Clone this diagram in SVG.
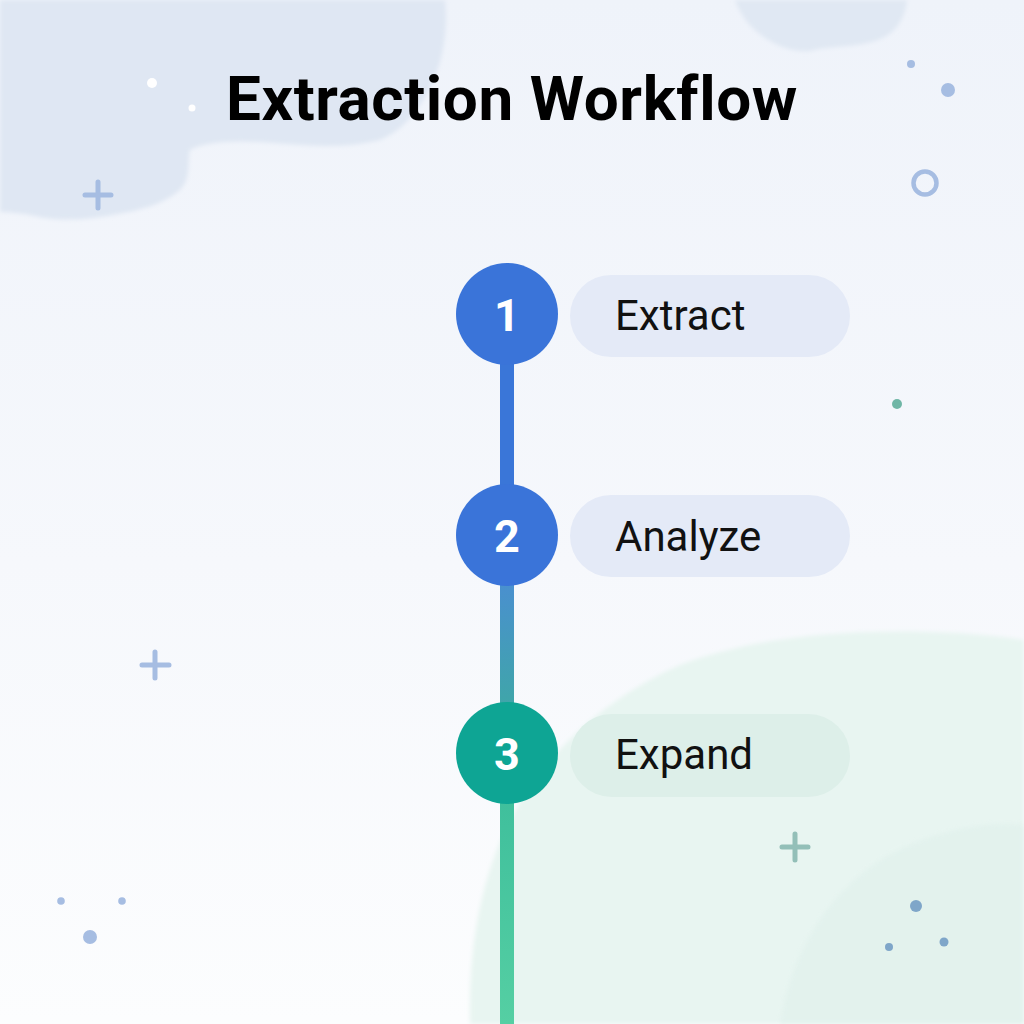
<svg xmlns="http://www.w3.org/2000/svg" width="1024" height="1024" viewBox="0 0 1024 1024">
  <defs>
    <linearGradient id="bg" x1="0" y1="0" x2="0" y2="1">
      <stop offset="0" stop-color="#eff3fa"/>
      <stop offset="0.55" stop-color="#f6f8fc"/>
      <stop offset="1" stop-color="#fcfdfe"/>
    </linearGradient>
    <linearGradient id="seg2" x1="0" y1="0" x2="0" y2="1">
      <stop offset="0" stop-color="#4a8fd0"/>
      <stop offset="1" stop-color="#3fa6a8"/>
    </linearGradient>
    <linearGradient id="seg3" x1="0" y1="0" x2="0" y2="1">
      <stop offset="0" stop-color="#3fbf9c"/>
      <stop offset="1" stop-color="#55cfa3"/>
    </linearGradient>
    <filter id="soft" x="-10%" y="-10%" width="120%" height="120%">
      <feGaussianBlur stdDeviation="2"/>
    </filter>
    <style>
      .title{font-family:Roboto,"Liberation Sans",sans-serif;font-weight:700;font-size:62px;letter-spacing:0.6px;fill:#000}
      .num{font-family:Roboto,"Liberation Sans",sans-serif;font-weight:700;font-size:45px;fill:#fff;text-anchor:middle}
      .lbl{font-family:Roboto,"Liberation Sans",sans-serif;font-weight:400;font-size:42px;fill:#111}
      .plus{stroke-width:5;stroke-linecap:round;fill:none}
    </style>
  </defs>

  <!-- background -->
  <rect width="1024" height="1024" fill="url(#bg)"/>
  <!-- blue watercolor top-left -->
  <path d="M0 0 L445 0 C447 18 446 40 440 62 C430 95 410 128 380 140 C340 150 300 145 260 142 C230 140 200 143 190 150 C187 160 192 178 180 190 C162 205 140 210 118 214 C90 220 60 222 35 216 C20 213 8 212 0 212 Z" fill="#dfe7f3" filter="url(#soft)"/>
  <!-- blue blob top-right -->
  <path d="M735 0 L907 0 C905 20 895 34 878 40 C855 48 830 46 815 50 C800 54 780 48 765 38 C750 28 740 15 735 0 Z" fill="#e0e8f3" filter="url(#soft)"/>
  <!-- green watercolor bottom-right -->
  <path d="M470 1024 C468 950 480 880 510 820 C540 760 600 700 680 665 C760 635 850 630 930 632 C970 633 1000 636 1024 640 L1024 1024 Z" fill="#e8f5f1" filter="url(#soft)"/>
  <path d="M780 1024 C790 960 820 900 880 860 C930 830 990 820 1024 825 L1024 1024 Z" fill="#e1f1ec" opacity="0.7" filter="url(#soft)"/>

  <!-- decorations -->
  <g id="decor">
    <circle cx="152" cy="83" r="5" fill="#ffffff"/>
    <circle cx="192" cy="108" r="3.5" fill="#ffffff"/>
    <path class="plus" stroke="#a6bde2" d="M85 195 H111 M98 182 V208"/>
    <circle cx="911" cy="64" r="4" fill="#a6bde2"/>
    <circle cx="948" cy="90" r="7" fill="#a6bde2"/>
    <circle cx="925" cy="183" r="11.5" fill="none" stroke="#a6bde2" stroke-width="4.5"/>
    <circle cx="897" cy="404" r="5" fill="#6fb6a6"/>
    <path class="plus" stroke="#a6bde2" d="M142 665 H169 M155 652 V678"/>
    <circle cx="61" cy="901" r="3.8" fill="#a6bde2"/>
    <circle cx="122" cy="901" r="3.8" fill="#a6bde2"/>
    <circle cx="90" cy="937" r="7" fill="#a6bde2"/>
    <path class="plus" stroke="#93bfb8" d="M782 847 H808 M795 834 V860"/>
    <circle cx="916" cy="906" r="6" fill="#7fa6c9"/>
    <circle cx="944" cy="942" r="4.5" fill="#7fa6c9"/>
    <circle cx="889" cy="947" r="4" fill="#7fa6c9"/>
  </g>

  <!-- title -->
  <text class="title" x="512" y="120" text-anchor="middle">Extraction Workflow</text>

  <!-- connectors -->
  <g id="connectors">
    <rect x="500" y="360" width="14" height="130" fill="#3a76d8"/>
    <rect x="500" y="580" width="14" height="128" fill="url(#seg2)"/>
    <rect x="500" y="798" width="14" height="226" fill="url(#seg3)"/>
  </g>

  <!-- nodes -->
  <g id="step1">
    <rect x="570" y="275" width="280" height="82" rx="41" fill="#e4eaf7"/>
    <circle cx="507" cy="314" r="51" fill="#3a74d9"/>
    <text class="num" x="507" y="331">1</text>
    <text class="lbl" x="615" y="330">Extract</text>
  </g>
  <g id="step2">
    <rect x="570" y="495" width="280" height="82" rx="41" fill="#e4eaf7"/>
    <circle cx="507" cy="535" r="51" fill="#3a74d9"/>
    <text class="num" x="507" y="552">2</text>
    <text class="lbl" x="615" y="551">Analyze</text>
  </g>
  <g id="step3">
    <rect x="570" y="714" width="280" height="83" rx="41.5" fill="#ddefe9"/>
    <circle cx="507" cy="753" r="51" fill="#0ea594"/>
    <text class="num" x="507" y="770">3</text>
    <text class="lbl" x="615" y="769">Expand</text>
  </g>
</svg>
